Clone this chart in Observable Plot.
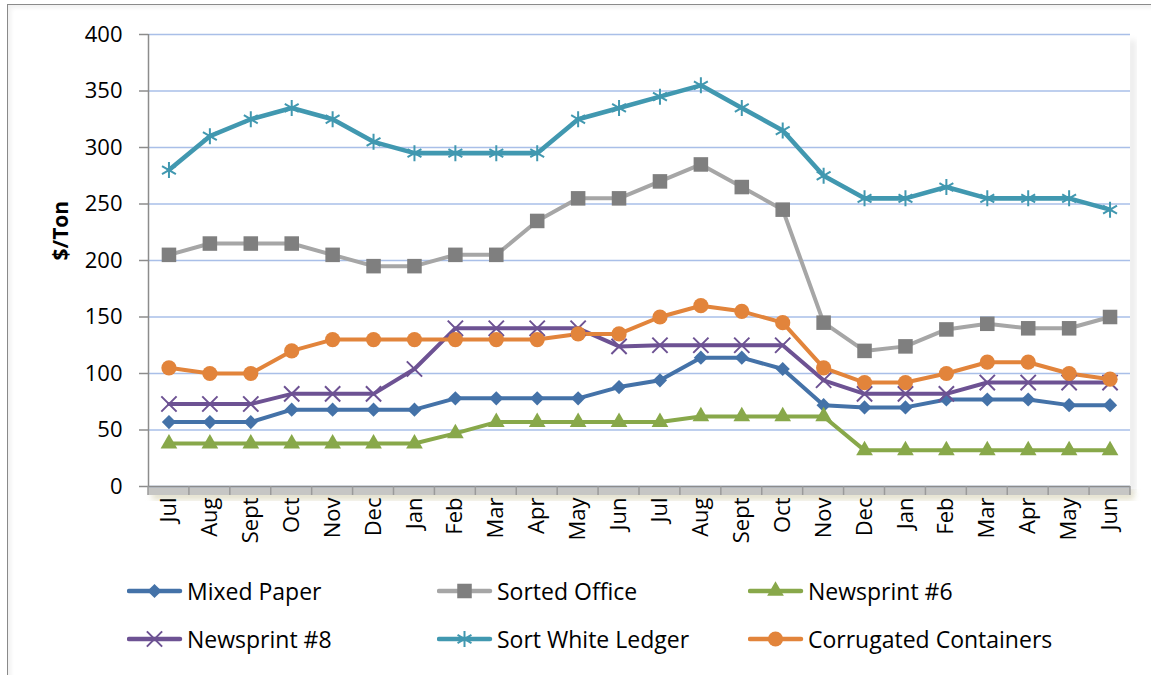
<!DOCTYPE html>
<html>
<head>
<meta charset="utf-8">
<script src="https://cdn.jsdelivr.net/npm/d3@7"></script>
<script src="https://cdn.jsdelivr.net/npm/@observablehq/plot@0.6"></script>
<style>
  html, body { margin: 0; padding: 0; background: #fff; }
  body { width: 1151px; height: 675px; overflow: hidden; position: relative; font-family: "Open Sans", sans-serif; }
  #frame { position: absolute; left: 7px; top: 4px; width: 1200px; height: 700px; border-left: 1.5px solid #8a8a8a; border-top: 1.5px solid #8a8a8a; box-shadow: inset 3px 3px 4px rgba(0,0,0,0.06); }
  #chart { position: absolute; left: 0; top: 0; }
  #legend { position: absolute; left: 0; top: 566px; width: 1151px; height: 100px; }
  .item { position: absolute; display: flex; align-items: center; height: 40px; font-size: 23px; color: #000; white-space: nowrap; }
  .item svg { margin-right: 4px; }
</style>
</head>
<body>
<div id="frame"></div>
<div id="chart"></div>
<div id="legend"></div>
<script>
const months = ["Jul","Aug","Sept","Oct","Nov","Dec","Jan","Feb","Mar","Apr","May","Jun",
                "Jul","Aug","Sept","Oct","Nov","Dec","Jan","Feb","Mar","Apr","May","Jun"];
const yTicks = [0, 50, 100, 150, 200, 250, 300, 350, 400];

const mixedPaper        = [57,57,57,68,68,68,68,78,78,78,78,88, 94,114,114,104,72,70,70,77,77,77,72,72];
const sortedOffice      = [205,215,215,215,205,195,195,205,205,235,255,255, 270,285,265,245,145,120,124,139,144,140,140,150];
const newsprint6        = [38,38,38,38,38,38,38,47,57,57,57,57, 57,62,62,62,62,32,32,32,32,32,32,32];
const newsprint8        = [73,73,73,82,82,82,104,140,140,140,140,124, 125,125,125,125,94,82,82,82,92,92,92,92];
const sortWhiteLedger   = [280,310,325,335,325,305,295,295,295,295,325,335, 345,355,335,315,275,255,255,265,255,255,255,245];
const corrugated        = [105,100,100,120,130,130,130,130,130,130,135,135, 150,160,155,145,105,92,92,100,110,110,100,95];

const seriesNames = ["Mixed Paper","Sorted Office","Newsprint #6","Newsprint #8","Sort White Ledger","Corrugated Containers"];
const seriesValues = [mixedPaper, sortedOffice, newsprint6, newsprint8, sortWhiteLedger, corrugated];
const lineColors   = ["#4472a8","#a6a6a6","#88a84a","#6d5293","#4198b0","#e2843b"];
const markColors   = ["#4472a8","#7f7f7f","#88a84a","#6d5293","#4198b0","#e2843b"];
const symbols      = ["diamond2","square","triangle","times","asterisk","circle"];
const filled       = [true,true,true,false,false,true];
const radii        = [6.4,8.2,6.2,7,7.6,7.6];
const lineWidths   = [4,4,4,4,4.6,4];

const series = seriesNames.map((name, k) => ({
  name,
  data: seriesValues[k].map((v, i) => ({i, month: months[i], value: v, series: name})),
  line: lineColors[k], mark: markColors[k], symbol: symbols[k], filled: filled[k], r: radii[k], lw: lineWidths[k]
}));

const marks = [
  Plot.gridY(yTicks, {stroke: "#a9bfe8", strokeOpacity: 1, strokeWidth: 1.5}),
  Plot.axisY(yTicks, {tickSize: 9, tickPadding: 17, stroke: "#8c8c8c", strokeWidth: 1.5, label: null, fontSize: 22}),
  Plot.ruleX([-0.5], {stroke: "#8c8c8c", strokeWidth: 1.5}),
  Plot.ruleY([0], {stroke: "#8c8c8c", strokeWidth: 1.5}),
  Plot.axisX(d3.range(months.length), {tickFormat: i => months[i], tickRotate: -90, tickSize: 0, tickPadding: 11, label: null, fontSize: 22})
];
for (const s of series) {
  marks.push(Plot.line(s.data, {x: "i", y: "value", stroke: s.line, strokeWidth: s.lw, strokeLinejoin: "round", strokeLinecap: "round"}));
}
for (const s of series) {
  marks.push(Plot.dot(s.data, s.filled
    ? {x: "i", y: "value", symbol: s.symbol, r: s.r, fill: s.mark, stroke: "none"}
    : {x: "i", y: "value", symbol: s.symbol, r: s.r, fill: "none", stroke: s.mark, strokeWidth: 2}));
}
marks.push(Plot.text(["$/Ton"], {frameAnchor: "left", dx: -87, rotate: -90, fontWeight: "bold", fontSize: 21, fill: "#000"}));

const chart = Plot.plot({
  width: 1151,
  height: 560,
  marginLeft: 148,
  marginRight: 21,
  marginTop: 34,
  marginBottom: 74,
  x: {type: "linear", domain: [-0.5, months.length - 0.5]},
  y: {domain: [0, 400]},
  style: {fontFamily: "'Open Sans', sans-serif", fontSize: "22px", color: "#000", background: "transparent", overflow: "visible"},
  marks
});

// Excel-like shaded category-axis band with boundary ticks and a soft plot-area shadow
const xs = chart.scale("x"), ys = chart.scale("y");
const svg = d3.select(chart);
const x0 = xs.apply(-0.5), x1 = xs.apply(months.length - 0.5), y0 = ys.apply(0), yTop = ys.apply(400);
const defs = svg.insert("defs", ":first-child");
defs.append("filter").attr("id", "blur").append("feGaussianBlur").attr("stdDeviation", 3);
const deco = svg.insert("g", ":first-child");
deco.append("rect").attr("x", x0 + 4).attr("y", y0 + 4).attr("width", x1 - x0).attr("height", 10)
  .attr("fill", "#d8d4b8").attr("opacity", 0.7).attr("filter", "url(#blur)");
deco.append("rect").attr("x", x1 - 2).attr("y", yTop + 6).attr("width", 8).attr("height", y0 - yTop)
  .attr("fill", "#000").attr("opacity", 0.08).attr("filter", "url(#blur)");
deco.append("rect").attr("x", x0).attr("y", y0).attr("width", x1 - x0).attr("height", 9).attr("fill", "#c6c6c4");
deco.append("rect").attr("x", x0).attr("y", yTop).attr("width", x1 - x0).attr("height", y0 - yTop).attr("fill", "#fff");
const axisG = svg.append("g");
for (let k = 0; k <= months.length; k++) {
  const xb = xs.apply(k - 0.5);
  axisG.append("line").attr("x1", xb).attr("x2", xb).attr("y1", y0).attr("y2", y0 + 9)
    .attr("stroke", "#9a9a9a").attr("stroke-width", 1.5);
}
document.getElementById("chart").appendChild(chart);

// Legend
const legend = document.getElementById("legend");
const colX = [127, 437, 748];
const rowY = [5, 53];
const d3Sym = {diamond2: d3.symbolDiamond2, square: d3.symbolSquare, triangle: d3.symbolTriangle, times: d3.symbolTimes, asterisk: d3.symbolAsterisk, circle: d3.symbolCircle};
series.forEach((s, k) => {
  const div = document.createElement("div");
  div.className = "item";
  div.style.left = colX[k % 3] + "px";
  div.style.top = rowY[Math.floor(k / 3)] + "px";
  const ls = d3.create("svg").attr("width", 56).attr("height", 22);
  ls.append("line").attr("x1", 2).attr("x2", 53).attr("y1", 11).attr("y2", 11)
    .attr("stroke", s.line).attr("stroke-width", 4.5).attr("stroke-linecap", "round");
  const path = d3.symbol(d3Sym[s.symbol], Math.PI * s.r * s.r)();
  const p = ls.append("path").attr("d", path).attr("transform", "translate(27.5,11)");
  if (s.filled) p.attr("fill", s.mark); else p.attr("fill", "none").attr("stroke", s.mark).attr("stroke-width", 2);
  div.appendChild(ls.node());
  const t = document.createElement("span");
  t.textContent = s.name;
  div.appendChild(t);
  legend.appendChild(div);
});
</script>
</body>
</html>
